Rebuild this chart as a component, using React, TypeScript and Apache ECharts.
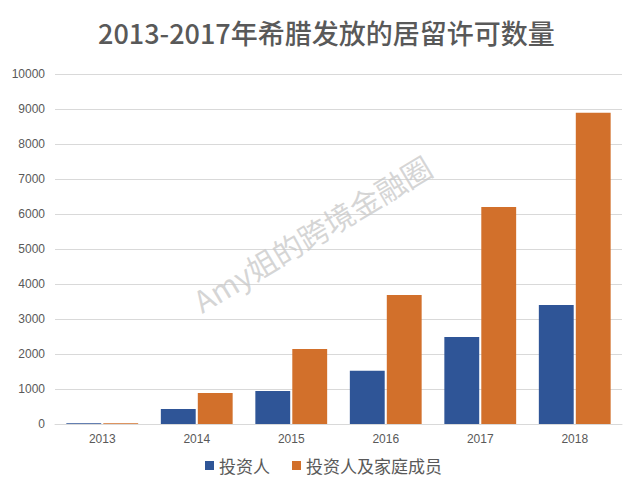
import React, { useEffect, useRef } from "react";
import * as echarts from "echarts";

const years = ["2013", "2014", "2015", "2016", "2017", "2018"];
const investors = [25, 430, 943, 1520, 2486, 3400];
const investorsFamily = [25, 886, 2140, 3686, 6200, 8890];
const seriesNames = ["投资人", "投资人及家庭成员"];
const titleText = "2013-2017年希腊发放的居留许可数量";
const watermarkText = "Amy姐的跨境金融圈";

export default function App() {
  const ref = useRef<HTMLDivElement>(null);
  useEffect(() => {
    if (!ref.current) return;
    const chart = echarts.init(ref.current, undefined, { renderer: "svg" });
    const font = "'Noto Sans CJK SC', 'Noto Sans', sans-serif";
    chart.setOption({
      animation: false,
      backgroundColor: "#ffffff",
      title: {
        text: titleText,
        left: 93,
        top: 14,
        textStyle: { fontSize: 27, fontWeight: 500, color: "#595959", fontFamily: font },
      },
      legend: {
        bottom: 20,
        left: 200,
        itemWidth: 9,
        itemHeight: 9,
        itemGap: 22,
        icon: "rect",
        textStyle: { fontSize: 17, color: "#595959", fontFamily: font },
        data: seriesNames,
      },
      grid: { left: 55, right: 12, top: 74, bottom: 75 },
      xAxis: {
        type: "category",
        data: years,
        axisLine: { lineStyle: { color: "#d9d9d9" } },
        axisTick: { show: false },
        axisLabel: { color: "#595959", fontSize: 12, fontFamily: "Liberation Sans, sans-serif", margin: 9 },
      },
      yAxis: {
        type: "value",
        min: 0,
        max: 10000,
        interval: 1000,
        axisLine: { show: false },
        axisTick: { show: false },
        axisLabel: {
          color: "#595959",
          fontSize: 12,
          fontFamily: "Liberation Sans, sans-serif",
          margin: 10,
          formatter: (v: number) => String(v),
        },
        splitLine: { lineStyle: { color: "#d9d9d9" } },
      },
      series: [
        {
          name: seriesNames[0],
          type: "bar",
          data: investors,
          itemStyle: { color: "#2F5597" },
          barGap: "6%",
          barCategoryGap: "24%",
        },
        {
          name: seriesNames[1],
          type: "bar",
          data: investorsFamily,
          itemStyle: { color: "#D2702B" },
          barGap: "6%",
          barCategoryGap: "24%",
        },
      ],
      graphic: [
        {
          type: "text",
          x: 312,
          y: 233,
          rotation: (31 * Math.PI) / 180,
          z: 100,
          silent: true,
          style: {
            text: watermarkText,
            fontSize: 30,
            fontFamily: font,
            fill: "rgba(200,200,200,0.75)",
            align: "center",
            verticalAlign: "middle",
          },
        },
      ],
    });
    return () => chart.dispose();
  }, []);
  return (
    <div
      ref={ref}
      style={{ position: "fixed", left: 0, top: 0, width: 634, height: 499 }}
    />
  );
}
